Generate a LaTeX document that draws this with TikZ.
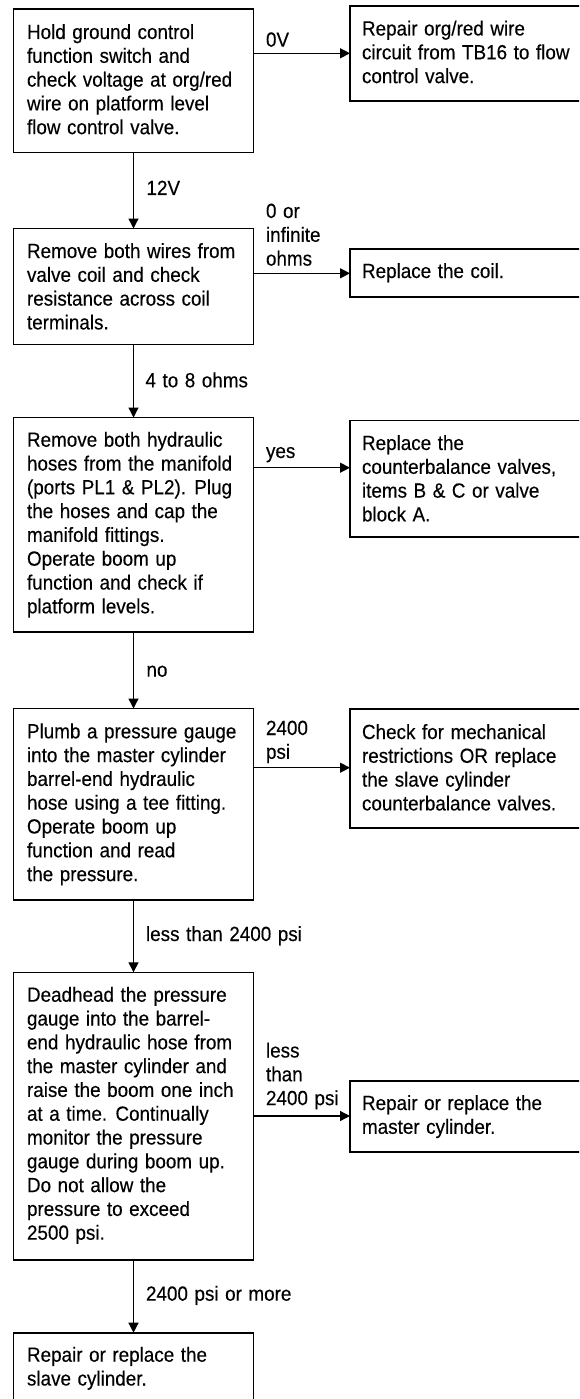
\documentclass[tikz,border=0pt]{standalone}
\usepackage{fontspec}
\setmainfont{Liberation Sans}[FakeStretch=0.92,WordSpace=1.25,FakeBold=0.3]
\usetikzlibrary{arrows.meta}
\newcommand{\tlines}[1]{\begin{tabular}[t]{@{}l@{}}#1\end{tabular}}
\tikzset{
  box/.style={draw, line width=1.6pt, inner sep=0pt, outer sep=0pt, anchor=north west},
  txt/.style={anchor=base west, inner sep=0pt, outer sep=0pt, font=\fontsize{20.5}{23.8}\selectfont},
  arr/.style={line width=1.3pt, -{Triangle[length=10pt,width=10pt]}}
}
\begin{document}
\begin{tikzpicture}[x=1pt,y=-1pt]
\useasboundingbox (0,0) rectangle (579,1399);
\clip (0,0) rectangle (579,1399);
% left boxes
\node[box, minimum width=240pt, minimum height=143.5pt] (b1) at (13.5,9) {};
\node[box, minimum width=240pt, minimum height=115.8pt] (b2) at (13.5,228.5) {};
\node[box, minimum width=240pt, minimum height=214.2pt] (b3) at (13.5,417.5) {};
\node[box, minimum width=240pt, minimum height=191.5pt] (b4) at (13.5,708.5) {};
\node[box, minimum width=240pt, minimum height=287.7pt] (b5) at (13.5,972.3) {};
\node[box, minimum width=240pt, minimum height=90pt] (b6) at (13.5,1332.7) {};
% right boxes
\node[box, minimum width=250pt, minimum height=95pt] (r1) at (350,6) {};
\node[box, minimum width=250pt, minimum height=47.7pt] (r2) at (350,249) {};
\node[box, minimum width=250pt, minimum height=116.2pt] (r3) at (350,420.5) {};
\node[box, minimum width=250pt, minimum height=118.7pt] (r4) at (350,709) {};
\node[box, minimum width=250pt, minimum height=71pt] (r5) at (350,1080.7) {};
% texts
\node[txt] (t1) at (27,39) {\tlines{Hold ground control\\function switch and\\check voltage at org/red\\wire on platform level\\flow control valve.}};
\node[txt] (t2) at (27,258) {\tlines{Remove both wires from\\valve coil and check\\resistance across coil\\terminals.}};
\node[txt] (t3) at (27,446.7) {\tlines{Remove both hydraulic\\hoses from the manifold\\(ports PL1 \& PL2). Plug\\the hoses and cap the\\manifold fittings.\\Operate boom up\\function and check if\\platform levels.}};
\node[txt] (t4) at (27,738.3) {\tlines{Plumb a pressure gauge\\into the master cylinder\\barrel-end hydraulic\\hose using a tee fitting.\\Operate boom up\\function and read\\the pressure.}};
\node[txt] (t5) at (27,1001.7) {\tlines{Deadhead the pressure\\gauge into the barrel-\\end hydraulic hose from\\the master cylinder and\\raise the boom one inch\\at a time. Continually\\monitor the pressure\\gauge during boom up.\\Do not allow the\\pressure to exceed\\2500 psi.}};
\node[txt] (t6) at (27,1361.7) {\tlines{Repair or replace the\\slave cylinder.}};
\node[txt] (s1) at (362,35.5) {\tlines{Repair org/red wire\\circuit from TB16 to flow\\control valve.}};
\node[txt] (s2) at (362,278) {\tlines{Replace the coil.}};
\node[txt] (s3) at (362,450) {\tlines{Replace the\\counterbalance valves,\\items B \& C or valve\\block A.}};
\node[txt] (s4) at (362,739) {\tlines{Check for mechanical\\restrictions OR replace\\the slave cylinder\\counterbalance valves.}};
\node[txt] (s5) at (362,1110) {\tlines{Repair or replace the\\master cylinder.}};
% connector labels
\node[txt] (l1) at (266,46.7) {0V};
\node[txt] (l2) at (146.5,195) {12V};
\node[txt] (l3) at (266,218) {\tlines{0 or\\infinite\\ohms}};
\node[txt] (l4) at (145.5,387.3) {4 to 8 ohms};
\node[txt] (l5) at (266,458) {yes};
\node[txt] (l6) at (146.5,676.7) {no};
\node[txt] (l7) at (266,735) {\tlines{2400\\psi}};
\node[txt] (l8) at (146,941) {less than 2400 psi};
\node[txt] (l9) at (266,1057.5) {\tlines{less\\than\\2400 psi}};
\node[txt] (l10) at (146,1300.7) {2400 psi or more};
% connectors
\draw[arr] (b1.east |- 0,53.3) -- (r1.west |- 0,53.3);
\draw[arr] (b2.east |- 0,273.3) -- (r2.west |- 0,273.3);
\draw[arr] (b3.east |- 0,467.7) -- (r3.west |- 0,467.7);
\draw[arr] (b4.east |- 0,767.7) -- (r4.west |- 0,767.7);
\draw[arr] (b5.east |- 0,1116) -- (r5.west |- 0,1116);
\draw[arr] (b1.south) -- (b2.north);
\draw[arr] (b2.south) -- (b3.north);
\draw[arr] (b3.south) -- (b4.north);
\draw[arr] (b4.south) -- (b5.north);
\draw[arr] (b5.south) -- (b6.north);
\end{tikzpicture}
\end{document}
